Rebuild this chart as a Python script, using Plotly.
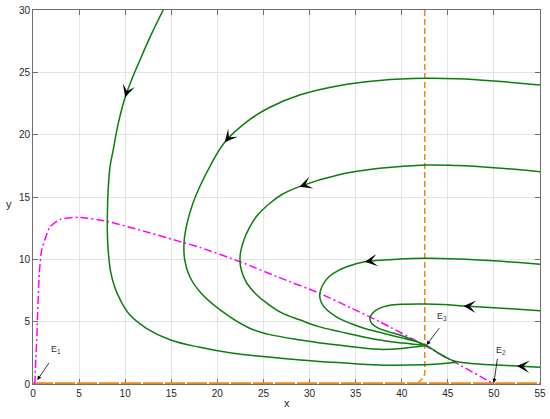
import math
import plotly.graph_objects as go

GREEN = "#0b7d0b"
MAGENTA = "#ff00ff"
ORANGE = "#e8891e"
AXIS = "#6e6e6e"
GRID = "#e5e5e5"
FONT = "Liberation Sans, Arial, sans-serif"

W, H = 550, 419
ML, MR, MT, MB = 33, 10, 10, 35
X_RANGE = [0, 55]
Y_RANGE = [0, 30]

# trajectories, each listed in the direction of motion
traj_a_x = [14.13, 12.87, 11.61, 10.7, 10.0, 9.25, 8.71, 8.35, 8.15, 8.07, 8.07, 8.15, 8.4, 8.85, 9.5, 10.5, 12.3, 14.86, 18.1, 21.7, 25.0, 29.0, 33.0, 37.6, 41.0, 43.5, 45.9]
traj_a_y = [30.0, 28.1, 26.0, 24.4, 23.0, 20.9, 18.8, 17.4, 15.5, 13.5, 12.0, 10.8, 9.1, 7.8, 6.7, 5.55, 4.47, 3.55, 2.94, 2.46, 2.2, 1.93, 1.72, 1.52, 1.52, 1.58, 1.75]

traj_b_x = [55.0, 50.0, 46.0, 42.6, 37.6, 33.3, 29.0, 25.7, 23.5, 20.8, 19.3, 18.2, 17.35, 16.75, 16.4, 16.45, 17.0, 18.1, 20.3, 23.5, 25.5, 29.0, 33.3, 37.6, 40.4, 42.7]
traj_b_y = [23.98, 24.3, 24.48, 24.52, 24.35, 23.95, 23.2, 22.2, 21.2, 19.4, 17.6, 16.0, 14.5, 13.0, 11.5, 10.0, 8.6, 7.4, 5.94, 4.47, 4.0, 3.53, 3.1, 2.78, 2.88, 3.08]

traj_c_x = [55.0, 50.0, 46.0, 42.6, 37.6, 33.3, 28.9, 27.0, 25.7, 24.3, 23.45, 22.85, 22.5, 22.5, 22.8, 23.2, 24.2, 25.4, 27.0, 29.0, 31.0, 33.3, 37.6, 40.2, 42.7]
traj_c_y = [17.03, 17.35, 17.52, 17.57, 17.3, 16.8, 15.83, 15.2, 14.5, 13.5, 12.5, 11.5, 10.5, 9.5, 8.7, 8.08, 7.2, 6.47, 5.7, 5.13, 4.6, 4.2, 3.53, 3.28, 3.08]

traj_d_x = [55.0, 50.0, 46.0, 42.5, 39.8, 36.0, 34.2, 33.1, 32.1, 31.4, 31.1, 31.3, 31.9, 33.0, 34.4, 36.0, 38.0, 40.0, 41.6, 42.7]
traj_d_y = [9.6, 9.88, 10.03, 10.08, 10.02, 9.8, 9.45, 9.1, 8.6, 7.9, 7.14, 6.5, 5.94, 5.35, 4.87, 4.45, 4.07, 3.7, 3.4, 3.08]

traj_e_x = [55.0, 50.0, 46.7, 44.5, 42.5, 40.3, 38.6, 37.5, 36.85, 36.55, 36.75, 37.4, 38.6, 39.8, 41.3, 42.7]
traj_e_y = [5.88, 6.12, 6.26, 6.38, 6.42, 6.4, 6.3, 6.05, 5.7, 5.27, 4.85, 4.5, 4.18, 3.93, 3.5, 3.08]

traj_f_x = [55.0, 52.5, 50.3, 47.5, 45.9, 45.0, 44.2, 43.4, 42.7]
traj_f_y = [1.34, 1.44, 1.52, 1.65, 1.8, 2.05, 2.38, 2.75, 3.08]

# index of the arrowhead tip on each trajectory
arrow_index = [4, 9, 6, 5, 2, 1]

# nullclines
null_m_x = [0.2, 0.3, 0.4, 0.68, 0.94, 1.3, 1.84, 2.93, 5.0, 8.0, 11.6, 15.6, 18.1, 22.5, 26.5, 31.0, 34.5, 37.6, 42.6, 46.0, 50.0]
null_m_y = [0.0, 2.0, 3.5, 8.88, 10.75, 11.6, 12.6, 13.2, 13.37, 13.05, 12.35, 11.5, 10.96, 9.8, 8.6, 7.3, 6.1, 5.0, 3.05, 1.65, 0.0]

null_v_x = [42.5, 42.5, 42.3, 41.6]
null_v_y = [30.0, 0.8, 0.45, 0.0]

null_h_x = [0.0, 55.0]
null_h_y = [0.0, 0.0]

# equilibrium labels: tip, tail, label position
eq_names = ["E<sub>1</sub>", "E<sub>2</sub>", "E<sub>3</sub>"]
eq_tip = [(0.47, 0.32), (50.0, 0.1), (42.7, 3.13)]
eq_tail = [(1.84, 1.8), (50.4, 2.14), (44.2, 4.6)]
eq_label = [(2.5, 2.8), (50.8, 2.7), (44.4, 5.4)]

trajectories = [
    (traj_a_x, traj_a_y), (traj_b_x, traj_b_y), (traj_c_x, traj_c_y),
    (traj_d_x, traj_d_y), (traj_e_x, traj_e_y), (traj_f_x, traj_f_y),
]

px_per_x = (W - ML - MR) / (X_RANGE[1] - X_RANGE[0])
px_per_y = (H - MT - MB) / (Y_RANGE[1] - Y_RANGE[0])

fig = go.Figure()

fig.add_trace(go.Scatter(
    x=null_h_x, y=null_h_y, mode="lines",
    line=dict(color=ORANGE, width=3.5, dash="20px,2px"), hoverinfo="skip",
))
fig.add_trace(go.Scatter(
    x=null_v_x, y=null_v_y, mode="lines",
    line=dict(color=ORANGE, width=1.5, dash="6px,3px"), hoverinfo="skip",
))
fig.add_trace(go.Scatter(
    x=null_m_x, y=null_m_y, mode="lines",
    line=dict(color=MAGENTA, width=1.5, dash="8px,3px,2px,3px", shape="spline", smoothing=0.6),
    hoverinfo="skip",
))

for (tx, ty) in trajectories:
    fig.add_trace(go.Scatter(
        x=tx, y=ty, mode="lines",
        line=dict(color=GREEN, width=1.5, shape="spline", smoothing=1.1),
        hoverinfo="skip",
    ))

# direction arrowheads: tip on the curve, oriented along the local tangent
for (tx, ty), k in zip(trajectories, arrow_index):
    dx = (tx[k + 1] - tx[k - 1]) * px_per_x
    dy = -(ty[k + 1] - ty[k - 1]) * px_per_y
    n = math.hypot(dx, dy)
    ux, uy = dx / n, dy / n
    fig.add_annotation(
        x=tx[k], y=ty[k], ax=-ux * 7, ay=-uy * 7,
        text="", showarrow=True, arrowhead=3, arrowsize=1.9, arrowwidth=1.1,
        arrowcolor="black",
    )

for name, tip, tail, lab in zip(eq_names, eq_tip, eq_tail, eq_label):
    fig.add_annotation(
        x=tip[0], y=tip[1], ax=tail[0], ay=tail[1], axref="x", ayref="y",
        text="", showarrow=True, arrowhead=2, arrowsize=1, arrowwidth=0.8,
        arrowcolor="black",
    )
    fig.add_annotation(
        x=lab[0], y=lab[1], text=name, showarrow=False,
        font=dict(size=9, color="#333333"),
    )

fig.add_annotation(
    x=-0.058, y=0.48, xref="paper", yref="paper", text="y", showarrow=False,
    font=dict(size=11, color="#262626"),
)
fig.add_annotation(
    x=0.5, y=-0.072, xref="paper", yref="paper", text="x", showarrow=False,
    font=dict(size=11, color="#262626"),
)

axis_common = dict(
    showgrid=True, gridcolor=GRID, gridwidth=1,
    showline=True, linecolor=AXIS, linewidth=1, mirror="ticks",
    ticks="inside", ticklen=5, tickcolor=AXIS,
    zeroline=False, tickfont=dict(size=10, color="#262626"),
    automargin=False, layer="below traces",
)

fig.update_xaxes(range=X_RANGE, dtick=5, **axis_common)
fig.update_yaxes(range=Y_RANGE, dtick=5, **axis_common)

fig.update_layout(
    width=W, height=H,
    margin=dict(l=ML, r=MR, t=MT, b=MB),
    plot_bgcolor="white", paper_bgcolor="white",
    showlegend=False,
    font=dict(family=FONT, color="#262626"),
)

fig.write_html("out.html", config={"displayModeBar": False},
               post_script="document.body.style.margin='0px';")
